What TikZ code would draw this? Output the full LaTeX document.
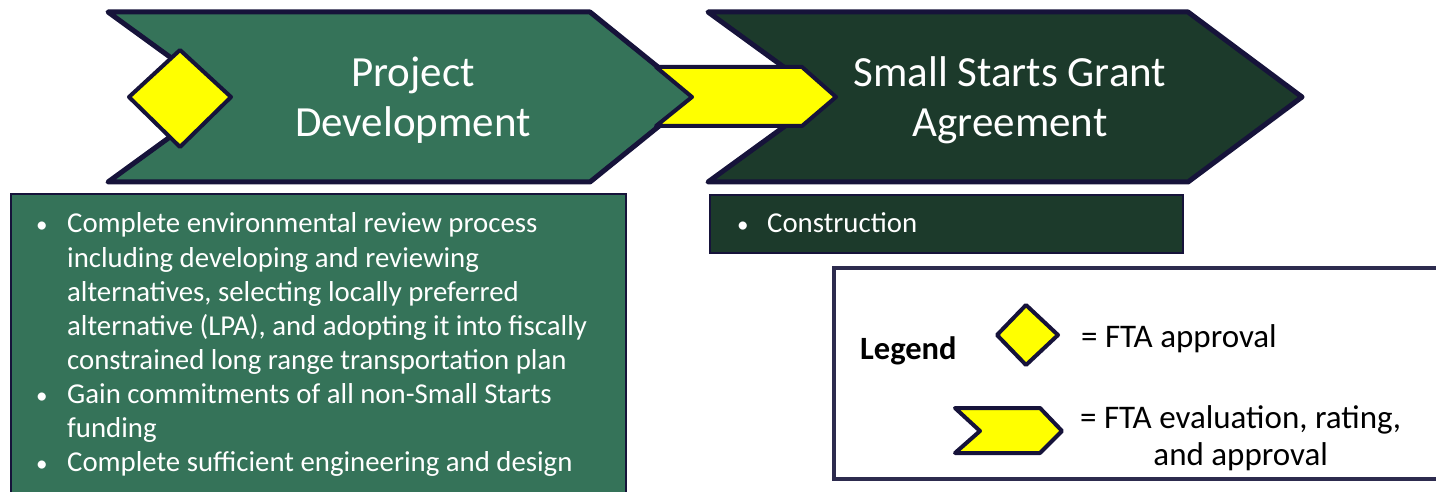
\documentclass[tikz,border=0pt]{standalone}
\usepackage{fontspec}
\setmainfont{Carlito}
\usetikzlibrary{positioning}
\definecolor{pdgreen}{HTML}{357359}
\definecolor{sgdark}{HTML}{1C3A2B}
\definecolor{edgenavy}{HTML}{16133A}
\definecolor{ftayellow}{HTML}{FFFF00}
\newcommand{\pdbullet}{\scalebox{0.8}{\textbullet}}
\tikzset{
  phase/.style={draw=edgenavy, line width=5pt, line join=round},
  ftamark/.style={draw=edgenavy, fill=ftayellow, line width=4pt, line join=round},
  listbox/.style={draw=edgenavy, line width=2pt},
  phasetitle/.style={text=white, align=center, inner sep=0pt, font=\fontsize{43}{50}\selectfont},
  bodytext/.style={text=white, inner sep=0pt, font=\fontsize{28.8}{34.1}\selectfont},
  legendtext/.style={inner sep=0pt, font=\fontsize{33}{37}\selectfont},
}
\begin{document}
\begin{tikzpicture}[x=1pt,y=-1pt]
				\useasboundingbox (0,0) rectangle (1436,492);
				\def\t{12} % mép trên
				\def\m{97} % đường giữa
				\def\u{182} % mép dưới
				% phase 1
				\coordinate (A1) at (108,\t);
				\coordinate (B1) at (590,\t);
				\coordinate (C1) at (695,\m);
				\coordinate (D1) at (590,\u);
				\coordinate (E1) at (108,\u);
				\coordinate (F1) at (225,\m);
				\draw[phase, fill=pdgreen] (A1)--(B1)--(C1)--(D1)--(E1)--(F1)--cycle;
				% phase 2
				\coordinate (A2) at (708,\t);
				\coordinate (B2) at (1188,\t);
				\coordinate (C2) at (1302,\m);
				\coordinate (D2) at (1188,\u);
				\coordinate (E2) at (708,\u);
				\coordinate (F2) at (825,\m);
				\draw[phase, fill=sgdark] (A2)--(B2)--(C2)--(D2)--(E2)--(F2)--cycle;
				% FTA marks
				\draw[ftamark] (180,50)--(231,\m)--(180,147)--(129,\m)--cycle;
				\draw[ftamark] (656,67)--(802,67)--(836,\m)--(802,126)--(656,126)--(692,\m)--cycle;
				\node[phasetitle] (pdtitle) at (413,100) {Project\\Development};
				\node[phasetitle] (sgtitle) at (1010,100) {Small Starts Grant\\Agreement};
				% list boxes
				\draw[listbox, fill=pdgreen] (11,194) rectangle (626,510);
				\draw[listbox, fill=sgdark] (710,195) rectangle (1183,253);
				\node[bodytext, anchor=base west] (pdlist) at (36,233) {\begin{tabular}[t]{@{}p{31pt}@{}l@{}}
					\pdbullet & Complete environmental review process\\
					& including developing and reviewing\\
					& alternatives, selecting locally preferred\\
					& alternative (LPA), and adopting it into fiscally\\
					& constrained long range transportation plan\\
					\pdbullet & Gain commitments of all non-Small Starts\\
					& funding\\
					\pdbullet & Complete sufficient engineering and design
				\end{tabular}};
				\node[bodytext, anchor=base west] (sglist) at (737,233) {\begin{tabular}[t]{@{}p{30pt}@{}l@{}}
					\pdbullet & Construction
				\end{tabular}};
				% legend
				\draw[edgenavy!90!white, line width=3.5pt, fill=white] (834,268) rectangle (1450,479);
				\node[legendtext, anchor=base west, font=\fontsize{32.5}{37}\selectfont\bfseries] (legtitle) at (860,359) {Legend};
				\draw[ftamark] (1026,305)--(1058,335)--(1026,365)--(997,335)--cycle;
				\node[legendtext, anchor=base west] (legapproval) at (1081,347) {= FTA approval};
				\draw[ftamark] (955,408)--(1040,408)--(1062,431)--(1040,453)--(955,453)--(980,431)--cycle;
				\node[legendtext, anchor=base west] (legrating) at (1080,428) {\begin{tabular}[t]{@{}c@{}}
					= FTA evaluation, rating,\\
					and approval
				\end{tabular}};
		\end{tikzpicture}
\end{document}
